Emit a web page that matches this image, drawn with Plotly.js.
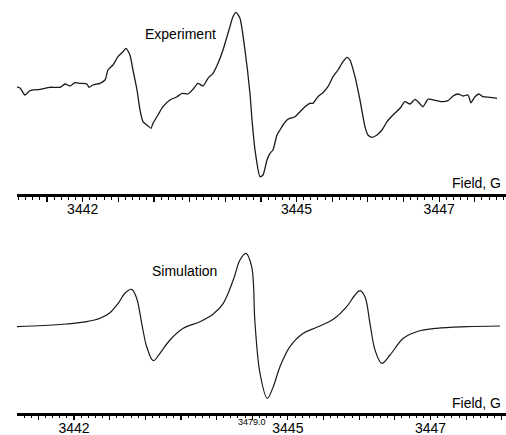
<!DOCTYPE html>
<html>
<head>
<meta charset="utf-8">
<script src="https://cdn.plot.ly/plotly-3.0.1.min.js"></script>
<style>
html,body{margin:0;padding:0;background:#fff;}
#chart{width:506px;height:435px;}
</style>
</head>
<body>
<div id="chart"></div>
<script>
// Magnetic field (G) and signal (arbitrary units)
var expField = [3441.013,3441.050,3441.121,3441.191,3441.261,3441.401,3441.541,3441.682,3441.752,3441.822,3441.892,3441.962,3442.060,3442.088,3442.144,3442.243,3442.313,3442.355,3442.425,3442.495,3442.565,3442.607,3442.663,3442.705,3442.762,3442.804,3442.846,3442.916,3442.958,3442.986,3443.056,3443.126,3443.224,3443.323,3443.393,3443.477,3443.547,3443.617,3443.687,3443.757,3443.828,3443.898,3443.968,3444.038,3444.108,3444.150,3444.206,3444.276,3444.346,3444.375,3444.417,3444.487,3444.529,3444.585,3444.627,3444.669,3444.725,3444.767,3444.809,3444.879,3444.978,3445.048,3445.118,3445.188,3445.230,3445.300,3445.370,3445.440,3445.511,3445.581,3445.651,3445.707,3445.749,3445.819,3445.889,3445.959,3446.001,3446.058,3446.128,3446.198,3446.268,3446.352,3446.450,3446.520,3446.591,3446.661,3446.703,3446.773,3446.843,3446.969,3447.039,3447.123,3447.194,3447.264,3447.334,3447.404,3447.446,3447.502,3447.558,3447.614,3447.712,3447.811];
var expSignal = [-1.7,3,2,-5,-0.7,0.7,2.7,2.7,6,4,7.3,6.7,6,2.7,5,6.7,10,20,25,33.3,38.3,41.7,35,20,0,-20,-31.7,-36,-38.3,-33.3,-25,-16.7,-10,-6.7,-3.3,-4,0.7,6.7,4,11.7,16.7,26.7,40,56.7,73.3,77.7,71.7,40,-3.3,-30,-60,-86.7,-85,-70,-63.3,-60,-45,-40,-35,-29.3,-26.7,-21.7,-16.7,-13.3,-13.3,-6.7,-2.7,3.3,13.3,20,28.3,32.7,30,13.3,-10,-36.7,-45,-47.3,-45,-40,-31.7,-25,-18.3,-11.7,-14,-9.3,-11.7,-16.7,-9.3,-10.7,-11.7,-10.7,-6,-4,-6,-5,-12.7,-6.7,-4,-6.7,-7.3,-8.3];

var simField = [3441.149,3441.429,3441.898,3442.178,3442.365,3442.505,3442.621,3442.715,3442.809,3442.879,3442.950,3443.020,3443.112,3443.206,3443.346,3443.533,3443.767,3443.954,3444.094,3444.234,3444.328,3444.412,3444.492,3444.539,3444.609,3444.711,3444.795,3444.889,3445.029,3445.216,3445.404,3445.637,3445.825,3445.941,3446.011,3446.081,3446.151,3446.222,3446.316,3446.432,3446.619,3446.806,3447.087,3447.508,3447.975];
var simSignal = [-0.7,0,2,4.3,7.7,13.3,22.7,32.7,36.7,27.7,2.7,-20.7,-34.7,-27.3,-14,-2.3,4.3,12,22.7,46,66,72.7,59.3,2.7,-47.3,-72.3,-60.7,-40.7,-20.7,-7.3,-1.3,6.7,19.3,31,35.3,29.3,2.7,-24,-37.3,-29,-12.3,-5.7,-2.3,-0.7,0];

var tickVals = [3441.5,3442,3442.5,3443,3443.5,3444,3444.5,3445,3445.5,3446,3446.5,3447,3447.5,3448];
var tickText = ['','3442','','','','','','3445','','','','3447','',''];
var axisTitle = 'Field, G';
var panelNames = ['Experiment','Simulation'];
var centerFieldLabel = '3479.0';

var FONT = 'Liberation Sans, Arial, Helvetica, sans-serif';

function xAxis(range, anchor){
  return {
    domain:[17/506,1], range:range, anchor:anchor,
    showline:true, linewidth:3, linecolor:'#000',
    ticks:'outside', ticklen:4.5, tickwidth:1.2, tickcolor:'#000',
    tickmode:'array', tickvals:tickVals, ticktext:tickText,
    ticklabelstandoff:-4,
    tickfont:{family:FONT,size:14,color:'#000'},
    showgrid:false, zeroline:false, fixedrange:true,
    minor:{tickmode:'linear', tick0:3441, dtick:0.1, ticks:'outside', ticklen:2.5, tickwidth:1, tickcolor:'#000', showgrid:false}
  };
}

var traces = [
  {x:expField, y:expSignal, type:'scatter', mode:'lines', xaxis:'x', yaxis:'y',
   line:{color:'#1a1a1a', width:1.3, shape:'spline', smoothing:0.6}, hoverinfo:'skip', showlegend:false},
  {x:simField, y:simSignal, type:'scatter', mode:'lines', xaxis:'x2', yaxis:'y2',
   line:{color:'#1a1a1a', width:1.2, shape:'spline', smoothing:1}, hoverinfo:'skip', showlegend:false}
];

var layout = {
  width:506, height:435,
  margin:{l:0,r:0,t:0,b:0},
  paper_bgcolor:'#fff', plot_bgcolor:'#fff',
  font:{family:FONT, color:'#000'},
  showlegend:false,
  xaxis: xAxis([3441.079,3447.937],'y'),
  yaxis: {domain:[1-194/435,1], range:[-104,90], visible:false, fixedrange:true},
  xaxis2: xAxis([3441.201,3448.059],'y2'),
  yaxis2: {domain:[1-412.7/435,1-230/435], range:[-86.7,96], visible:false, fixedrange:true},
  annotations:[
    {xref:'paper',yref:'paper',x:180/506,y:1-34/435,xanchor:'center',yanchor:'middle',showarrow:false,
     text:panelNames[0],font:{family:FONT,size:14,color:'#000'}},
    {xref:'paper',yref:'paper',x:184/506,y:1-270.5/435,xanchor:'center',yanchor:'middle',showarrow:false,
     text:panelNames[1],font:{family:FONT,size:14,color:'#000'}},
    {xref:'paper',yref:'paper',x:503/506,y:1-183/435,xanchor:'right',yanchor:'middle',showarrow:false,
     text:axisTitle,font:{family:FONT,size:14,color:'#000'}},
    {xref:'paper',yref:'paper',x:503/506,y:1-402.5/435,xanchor:'right',yanchor:'middle',showarrow:false,
     text:axisTitle,font:{family:FONT,size:14,color:'#000'}},
    {xref:'paper',yref:'paper',x:252/506,y:1-421.5/435,xanchor:'center',yanchor:'middle',showarrow:false,
     text:centerFieldLabel,font:{family:FONT,size:9,color:'#000'}}
  ]
};

Plotly.newPlot('chart', traces, layout, {staticPlot:true, displayModeBar:false});
</script>
</body>
</html>
